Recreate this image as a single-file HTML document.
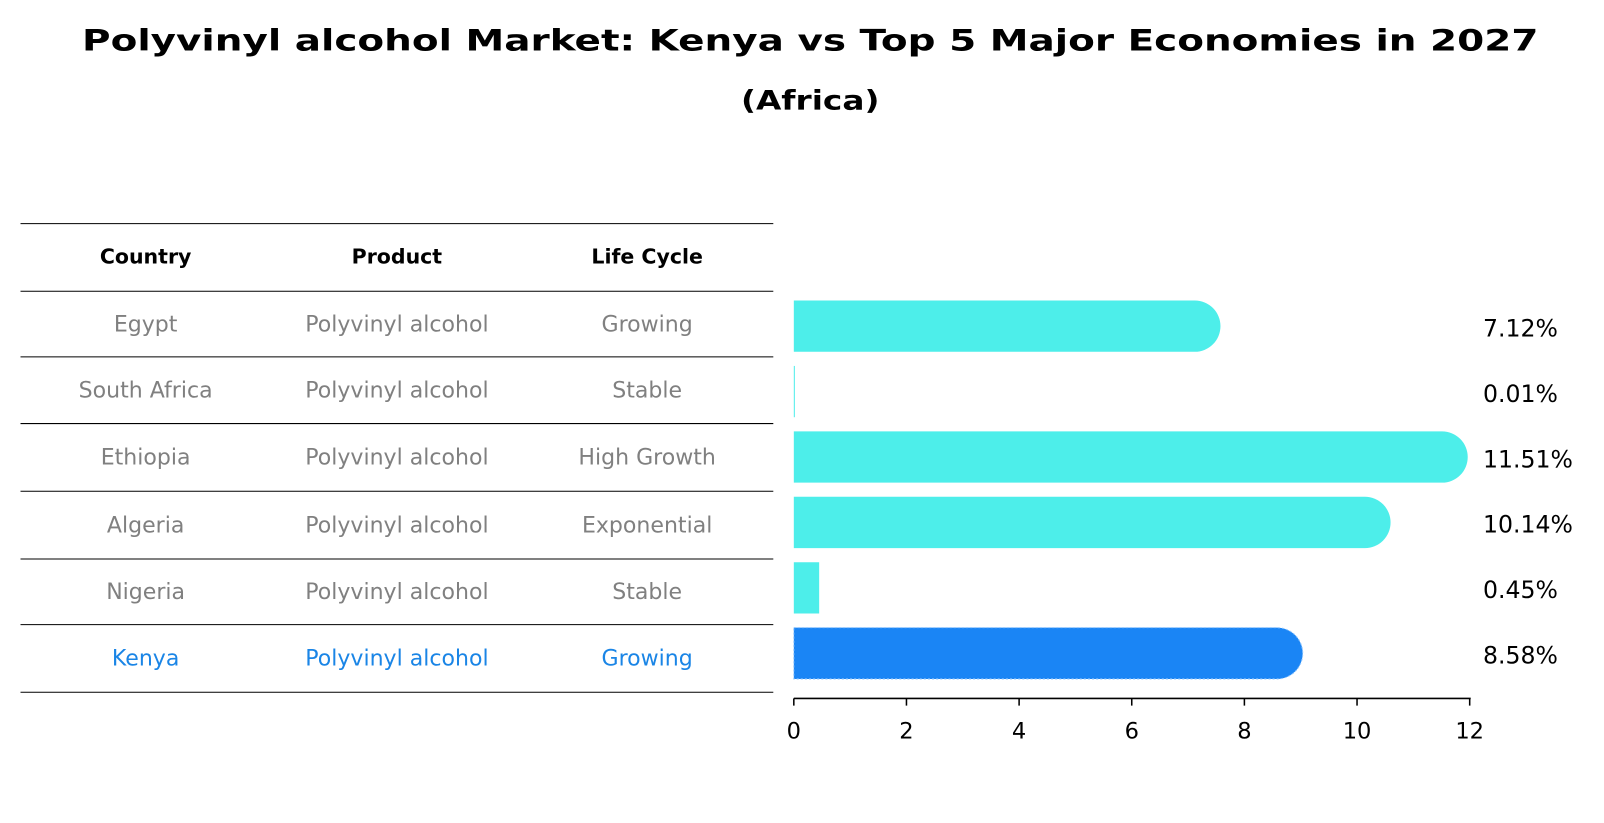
<!DOCTYPE html>
<html><head><meta charset="utf-8"><style>
body{margin:0;background:#fff;}
svg{display:block;font-family:"DejaVu Sans","Liberation Sans",sans-serif;}
</style></head><body>
<svg id="chart" width="1604" height="823" viewBox="0 0 1604 823">
<g transform="scale(1.0256)">
<text x="790" y="49" text-anchor="middle" font-size="29" font-weight="bold" textLength="1420" lengthAdjust="spacingAndGlyphs">Polyvinyl alcohol Market: Kenya vs Top 5 Major Economies in 2027</text>
<text x="790" y="107" text-anchor="middle" font-size="26" font-weight="bold" textLength="135" lengthAdjust="spacingAndGlyphs">(Africa)</text>
<g id="table"></g>
<g id="bars"></g>
</g>
</svg>
<script>
const countries = ["Egypt","South Africa","Ethiopia","Algeria","Nigeria","Kenya"];
const products = ["Polyvinyl alcohol","Polyvinyl alcohol","Polyvinyl alcohol","Polyvinyl alcohol","Polyvinyl alcohol","Polyvinyl alcohol"];
const lifeCycles = ["Growing","Stable","High Growth","Exponential","Stable","Growing"];
const values = [7.12,0.01,11.51,10.14,0.45,8.58];
const valueLabels = ["7.12%","0.01%","11.51%","10.14%","0.45%","8.58%"];
const ticks = [0,2,4,6,8,10,12];

const NS="http://www.w3.org/2000/svg";
function mk(tag,attrs,parent,text){const e=document.createElementNS(NS,tag);for(const k in attrs)e.setAttribute(k,attrs[k]);if(text!==undefined)e.textContent=text;parent.appendChild(e);return e;}
const x0=774, pxPerUnit=(1433-774)/12;
const xs=v=>x0+v*pxPerUnit;
const rowY=i=>318+i*63.8;
const table=document.getElementById('table');
const bars=document.getElementById('bars');

const lineYs=[218,284,348,413,479,545,609,675];
lineYs.forEach(y=>{const l=mk('line',{x1:20,x2:754,y1:y,y2:y,stroke:'#000','stroke-width':1},table);

});
const colX=[142,387,631];
["Country","Product","Life Cycle"].forEach((h,j)=>{const t=mk('text',{x:colX[j],y:257,'text-anchor':'middle','font-size':20,'font-weight':'bold'},table,h);

});
countries.forEach((c,i)=>{
  const y=(lineYs[i+1]+lineYs[i+2])/2+7;
  const col=i===countries.length-1?'#1a85e6':'#808080';
  [c,products[i],lifeCycles[i]].forEach((v,j)=>{
    const t=mk('text',{x:colX[j],y:y,'text-anchor':'middle','font-size':21.5,fill:col},table,v);
    
    
  });
});

const h=50,r=25;
values.forEach((v,i)=>{
  const cy=rowY(i), last=i===values.length-1;
  const fill=last?'#1a85f5':'#4deeea';
  const w=xs(v)-x0;
  let d;
  if(v>1){d=`M${x0},${cy-h/2} H${xs(v)} A${r},${r} 0 0 1 ${xs(v)},${cy+h/2} H${x0} Z`;}
  else{d=`M${x0},${cy-h/2} H${x0+Math.max(w,1)} V${cy+h/2} H${x0} Z`;}
  const p=mk('path',{d:d,fill:fill},bars);
  if(last){p.setAttribute('stroke','#8ec5ff');p.setAttribute('stroke-dasharray','2,2');p.setAttribute('stroke-width','1');}
  
  
  const t=mk('text',{x:1446,y:cy+10,'font-size':23},bars,valueLabels[i]);
  
  
});
const ax=mk('line',{x1:x0,x2:xs(12)+1,y1:681,y2:681,stroke:'#000','stroke-width':1.5},bars);


ticks.forEach(tv=>{
  const tl=mk('line',{x1:xs(tv),x2:xs(tv),y1:681,y2:688,stroke:'#000','stroke-width':1.5},bars);
  
  
  const t=mk('text',{x:xs(tv),y:720,'text-anchor':'middle','font-size':22},bars,String(tv));
  
  
});
</script>
</body></html>
